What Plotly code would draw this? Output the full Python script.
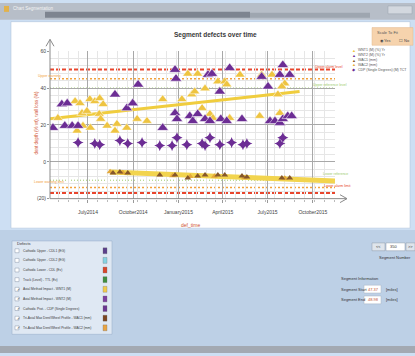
import plotly.graph_objects as go

W, H = 415, 356
FONT = "Liberation Sans Narrow, Liberation Sans, Arial"


def px(x):
    return x / W


def py(y):
    return 1 - y / H


# ---------------- data ----------------
# Axial method impact WNT1 (yellow triangles)
wnt1_dates = ["2014-05-01", "2014-06-05", "2014-06-15", "2014-06-19", "2014-06-09", "2014-06-21",
              "2014-06-29", "2014-07-05", "2014-07-06", "2014-07-15", "2014-07-25", "2014-08-01",
              "2014-07-24", "2014-07-27", "2014-08-09", "2014-08-25", "2014-08-29", "2014-09-18",
              "2014-10-09", "2014-10-29", "2014-11-30", "2015-01-08", "2015-01-28", "2015-02-03",
              "2015-02-24", "2015-01-20", "2015-02-09", "2015-03-22", "2015-04-05", "2015-04-09",
              "2015-05-06", "2015-06-19", "2015-02-18", "2015-03-06", "2015-03-12", "2015-04-15",
              "2015-06-15", "2015-07-10", "2015-08-05", "2015-07-30", "2015-07-22", "2015-07-26"]
wnt1_vals = [23.7, 32.8, 31.7, 26.4, 16.8, 19.5,
             27.5, 33.9, 18.4, 32.8, 34.4, 31.2,
             25.9, 23.2, 19.5, 16.8, 20.5, 18.4,
             23.2, 22.1, 33.9, 33.9, 36.5, 38.1,
             39.7, 47.7, 47.7, 43.5, 43.5, 41.9,
             47.2, 47.2, 29.1, 25.9, 23.7, 23.7,
             24.8, 47.2, 42.4, 40.8, 36.5, 26.4]

# Axial method impact WNT2 (purple triangles)
wnt2_dates = ["2014-04-21", "2014-05-09", "2014-05-20", "2014-05-15", "2014-05-30", "2014-06-11",
              "2014-08-25", "2014-09-18", "2014-10-11", "2014-09-30", "2014-11-30", "2014-12-25",
              "2014-12-27", "2014-12-25", "2014-12-29", "2015-01-24", "2015-01-30", "2015-02-09",
              "2015-02-24", "2015-03-02", "2015-03-10", "2015-03-06", "2015-03-26", "2015-03-28",
              "2015-04-09", "2015-04-15", "2015-05-10", "2015-06-19", "2015-07-02", "2015-07-26",
              "2015-08-01", "2015-08-15", "2015-07-06", "2015-07-16", "2015-07-26", "2015-08-01",
              "2015-08-11", "2015-08-19"]
wnt2_vals = [18.4, 31.2, 31.7, 19.5, 19.5, 19.5,
             36.5, 29.1, 41.9, 31.7, 18.4, 49.9,
             45.1, 26.4, 23.2, 24.8, 22.1, 25.9,
             23.2, 47.2, 47.7, 22.1, 38.1, 23.2,
             22.1, 50.9, 23.2, 46.1, 40.8, 47.2,
             52.5, 47.2, 22.1, 22.1, 21.1, 23.2,
             24.8, 24.8]

# Cathodic protection CDP (purple diamonds)
cdp_dates = ["2014-06-11", "2014-07-15", "2014-07-25", "2014-09-04", "2014-09-20", "2014-10-19",
             "2014-11-24", "2014-12-19", "2014-12-29", "2015-01-18", "2015-02-18", "2015-02-24",
             "2015-03-06", "2015-03-26", "2015-04-19", "2015-05-12", "2015-05-20", "2015-07-26",
             "2015-08-01"]
cdp_vals = [10.4, 9.9, 9.3, 11.5, 9.9, 10.4,
            8.8, 8.8, 13.1, 9.3, 9.9, 8.8,
            13.1, 9.3, 10.4, 9.3, 9.9, 9.9,
            13.1]

# Max dent / wheel analyst profile WAC1 (brown) and WAC2 (orange)
wac1_dates = ["2014-08-21", "2014-09-04", "2014-09-20", "2014-11-24", "2014-12-25", "2015-01-20",
              "2015-02-09", "2015-02-24", "2015-03-22", "2015-04-05", "2015-05-10", "2015-05-20",
              "2015-07-30", "2015-08-15"]
wac1_vals = [-6.1, -5.6, -6.1, -7.2, -7.2, -8.8,
             -7.7, -7.2, -7.2, -7.2, -7.7, -8.3,
             -8.8, -8.8]
wac2_dates = ["2014-08-15", "2014-09-10", "2014-12-20", "2015-01-25", "2015-03-15", "2015-05-15",
              "2015-08-05"]
wac2_vals = [-5.4, -6.0, -7.6, -8.0, -7.8, -8.6, -9.0]

# Trend lines
trend_up_dates = ["2014-04-15", "2015-09-04"]
trend_up_vals = [23.3, 38.1]
trend_lo_dates = ["2014-08-15", "2015-11-15"]
trend_lo_vals = [-5.6, -10.4]

# Threshold levels
upper_levels = [50, 45, 40]
lower_levels = [-17, -14, -10]
level_colors = ["#e8452c", "#f2a13c", "#9ccb6a"]

x_range = ["2014-04-15", "2015-11-15"]
y_range = [-20, 60]
y_ticks = [-20, 0, 20, 40, 60]
y_ticktext = ["(20)", "0", "20", "40", "60"]
x_ticks = ["2014-07-01", "2014-10-01", "2015-01-01", "2015-04-01", "2015-07-01", "2015-10-01"]
x_ticktext = ["July2014", "October2014", "January2015", "April2015", "July2015", "October2015"]

legend_rows = [
    ("Cathodic Upper - CDL1 (EG)", "#5b3f8c", False),
    ("Cathodic Upper - CDL2 (EG)", "#86d3e3", False),
    ("Cathodic Lower - CDL (Ev)", "#d9452b", False),
    ("Truck (Level) - TTL (Ev)", "#3f8f3f", False),
    ("Axial Method Impact - WNT1 (M)", "#f1cb4c", True),
    ("Axial Method Impact - WNT2 (M)", "#7c3fa1", True),
    ("Cathodic Prot. - CDP (Single Degrees)", "#6a3592", True),
    ("Tri-Axial Max Dent/Wheel Profile - WAC1 (mm)", "#7a4520", True),
    ("Tri-Axial Max Dent/Wheel Profile - WAC2 (mm)", "#e9a443", True),
]

YELLOW = "#eec441"
PURPLE = "#6c2d94"

fig = go.Figure()

# trend lines
fig.add_trace(go.Scatter(x=trend_lo_dates, y=trend_lo_vals, mode="lines",
                         line=dict(color="#f2d44e", width=5), hoverinfo="skip"))
fig.add_trace(go.Scatter(x=trend_up_dates, y=trend_up_vals, mode="lines",
                         line=dict(color="#f0cd3e", width=3), hoverinfo="skip"))

# point series
fig.add_trace(go.Scatter(x=cdp_dates, y=cdp_vals, mode="markers", name="CDP",
                         marker=dict(symbol="star-diamond", size=8, color=PURPLE)))
fig.add_trace(go.Scatter(x=wnt1_dates, y=wnt1_vals, mode="markers", name="WNT1",
                         marker=dict(symbol="triangle-up", size=9, color=YELLOW,
                                     line=dict(color="white", width=0.5))))
fig.add_trace(go.Scatter(x=wnt2_dates, y=wnt2_vals, mode="markers", name="WNT2",
                         marker=dict(symbol="triangle-up", size=10, color=PURPLE,
                                     line=dict(color="white", width=0.5))))
fig.add_trace(go.Scatter(x=wac2_dates, y=wac2_vals, mode="markers", name="WAC2",
                         marker=dict(symbol="triangle-up", size=6, color="#e4a93a")))
fig.add_trace(go.Scatter(x=wac1_dates, y=wac1_vals, mode="markers", name="WAC1",
                         marker=dict(symbol="triangle-up", size=6, color="#86572b")))

shapes = []
annotations = []


def rect(x0, y0, x1, y1, fill, line=None, lw=0, layer="below"):
    shapes.append(dict(type="rect", xref="paper", yref="paper",
                       x0=px(x0), x1=px(x1), y0=py(y1), y1=py(y0),
                       fillcolor=fill, line=dict(color=line or fill, width=lw), layer=layer))


def txt(x, y, s, size=5, color="#333", anchor="left", **kw):
    annotations.append(dict(x=px(x), y=py(y), xref="paper", yref="paper", text=s,
                            showarrow=False, xanchor=anchor, yanchor="middle",
                            font=dict(size=size, color=color, family=FONT), **kw))


# window chrome
rect(0, 0, 415, 17, "#b7bec8")
rect(45, 9, 250, 15, "#7d8490")
rect(250, 10, 370, 15, "#9ea6b0")
rect(388, 3, 412, 11, "#d3d8df", line="#9aa2ad", lw=0.5)
rect(4, 3, 9, 9, "#e2b24a")
txt(11, 6, "Chart Segmentation", 4.5, "#f4f4f4")
rect(11, 19, 410, 229, "#ffffff", line="#a9bdd6", lw=0.5)
rect(0, 231, 415, 349, "#bdd0e6")
rect(0, 349, 415, 356, "#a3a9b2")

# threshold lines across the plot
styles = [("4px,2px", 2), ("2px,2px", 1.5), ("1px,2px", 1)]
for lv, col, (dash, lw) in zip(upper_levels, level_colors, styles):
    shapes.append(dict(type="line", xref="x domain", yref="y", x0=0, x1=1, y0=lv, y1=lv,
                       line=dict(color=col, width=lw, dash=dash), layer="below"))
for lv, col, (dash, lw) in zip(lower_levels, level_colors, styles):
    shapes.append(dict(type="line", xref="x domain", yref="y", x0=0, x1=1, y0=lv, y1=lv,
                       line=dict(color=col, width=lw, dash=dash), layer="below"))

# level captions
for s, xx, lv, col, anc in [("Upper alarm level", 345, upper_levels[0], "#e8452c", "right"),
                           ("Upper warning", 36, upper_levels[1], "#f2a13c", "left"),
                           ("Upper reference level", 349, upper_levels[2], "#9ccb6a", "right"),
                           ("Lower warning limit", 32, lower_levels[1] + 1.5, "#f2a13c", "left"),
                           ("Lower reference", 350, lower_levels[2] + 2, "#9ccb6a", "right"),
                           ("Lower alarm limit", 352, lower_levels[0] + 2.5, "#e8452c", "right")]:
    annotations.append(dict(x=px(xx), y=lv, xref="paper", yref="y", text=s, showarrow=False,
                            xanchor=anc, yanchor="bottom", yshift=-1,
                            font=dict(size=3.5, color=col, family=FONT)))

# axis arrows
ax_col = "#8a8a8a"
shapes.append(dict(type="line", xref="paper", yref="paper", x0=px(50), x1=px(50),
                   y0=py(199), y1=py(37), line=dict(color=ax_col, width=1)))
shapes.append(dict(type="path", xref="paper", yref="paper",
                   path=f"M {px(46)},{py(44)} L {px(50)},{py(37)} L {px(54)},{py(44)}",
                   line=dict(color=ax_col, width=1)))
shapes.append(dict(type="line", xref="paper", yref="paper", x0=px(50), x1=px(347),
                   y0=py(199), y1=py(199), line=dict(color=ax_col, width=1)))
shapes.append(dict(type="path", xref="paper", yref="paper",
                   path=f"M {px(340)},{py(195)} L {px(347)},{py(199)} L {px(340)},{py(203)}",
                   line=dict(color=ax_col, width=1)))

# titles
txt(215, 33, "<b>Segment defects over time</b>", 6.5, "#3a3a3a", "center")
txt(190, 226, "def_time", 5, "#d0502e", "center")
annotations.append(dict(x=px(32), y=py(122), xref="paper", yref="paper",
                        text="dent depth (% wt), wall loss (%)", showarrow=False, textangle=-90,
                        font=dict(size=4.5, color="#d0502e", family=FONT)))

# scale-to-fit box
rect(372, 25, 413, 43, "#f6d3ad", line="#e2b88e", lw=0.5)
txt(375, 30, "Scale To Fit", 4, "#555")
txt(378, 38, "◉ Yes", 4, "#444")
txt(397, 38, "☐ No", 4, "#444")

# series key at the top right
key = [("▲", YELLOW, "WNT1 (M) (%) Yr"), ("▲", PURPLE, "WNT2 (M) (%) Yr"),
       ("▲", "#86572b", "WAC1 (mm)"), ("▲", "#e4a93a", "WAC2 (mm)"),
       ("◆", PURPLE, "CDP (Single Degrees) (M) TCT")]
for i, (sym, col, lab) in enumerate(key):
    yy = 48 + i * 5
    txt(350, yy, sym, 4, col)
    txt(356, yy, lab, 3.5, "#555")

# defects list panel
rect(12, 242, 112, 337, "#dfe8f3", line="#9fb4cf", lw=0.6)
txt(15, 245, "Defects", 4, "#333")
for i, (lab, col, on) in enumerate(legend_rows):
    yy = 252 + i * 9.8
    rect(15, yy - 2, 19, yy + 2, "#ffffff", line="#8897aa", lw=0.5)
    if on:
        txt(15.2, yy, "✓", 4, "#333")
    txt(21, yy, lab, 3.3, "#3a3a3a")
    rect(103, yy - 3, 107, yy + 3, col, line="#6b6b6b", lw=0.3)

# segment controls
rect(372, 244, 385, 252, "#dfe5ec", line="#8f9aa8", lw=0.5)
txt(378.5, 248, "<<", 4, "#333", "center")
rect(386, 244, 405, 252, "#ffffff", line="#8f9aa8", lw=0.5)
txt(388, 248, "350", 4, "#333")
rect(406, 244, 415, 252, "#dfe5ec", line="#8f9aa8", lw=0.5)
txt(410.5, 248, ">>", 4, "#333", "center")
txt(395, 259, "Segment Number", 4, "#333", "center")
txt(339, 280, "Segment Information", 4, "#333")
txt(339, 291, "Segment Start", 4, "#333")
rect(364, 287, 381, 295, "#ffffff", line="#a8b4c2", lw=0.5)
txt(366, 291, "47.37", 4, "#c0502e")
txt(384, 291, "[miles]", 4, "#333")
txt(339, 302, "Segment End", 4, "#333")
rect(364, 298, 381, 306, "#ffffff", line="#a8b4c2", lw=0.5)
txt(366, 302, "48.98", 4, "#c0502e")
txt(384, 302, "[miles]", 4, "#333")

fig.update_layout(
    width=W, height=H, margin=dict(l=0, r=0, t=0, b=0),
    paper_bgcolor="#cddff3", plot_bgcolor="#ffffff",
    showlegend=False, shapes=shapes, annotations=annotations,
    xaxis=dict(domain=[px(50), px(335)], range=x_range, type="date",
               tickvals=x_ticks, ticktext=x_ticktext,
               tickfont=dict(size=5, color="#444", family=FONT),
               ticklabelstandoff=5,
               showgrid=True, gridcolor="#a8a8a8", gridwidth=1,
               zeroline=False, showline=False, ticks="outside", ticklen=3, tickcolor="#999",
               minor=dict(dtick=20 * 86400000, tick0="2014-07-01", showgrid=True,
                          gridcolor="#e6e6e6", ticks="outside", ticklen=2, tickcolor="#bbb")),
    yaxis=dict(domain=[py(199), py(49)], range=y_range,
               tickvals=y_ticks, ticktext=y_ticktext,
               tickfont=dict(size=5, color="#444", family=FONT),
               showgrid=True, gridcolor="#a8a8a8", gridwidth=1,
               zeroline=False, showline=False, ticks="outside", ticklen=2, tickcolor="#999",
               minor=dict(dtick=4, showgrid=True, gridcolor="#e6e6e6")),
)

fig.write_html("out.html")
